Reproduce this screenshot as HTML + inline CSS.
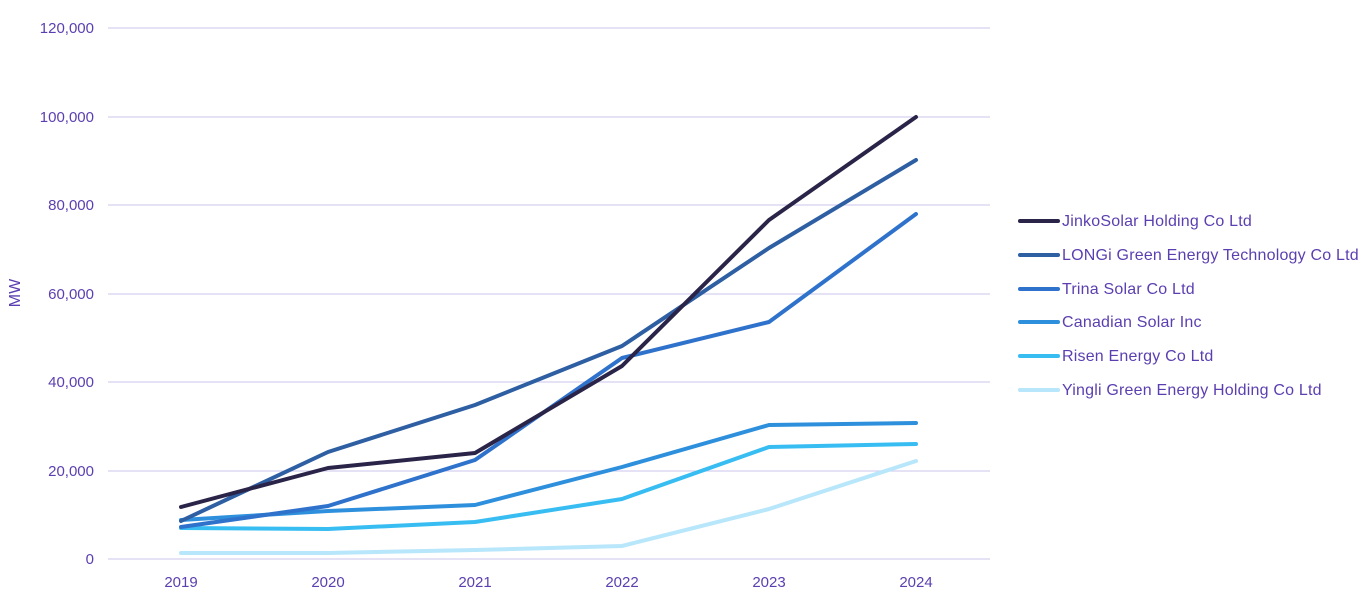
<!DOCTYPE html><html><head><style>body{margin:0;background:#fff}</style></head><body>
<svg width="1372" height="601" xmlns="http://www.w3.org/2000/svg" font-family="Liberation Sans, sans-serif">
<g stroke="#d4d0ee" stroke-width="1.2">
<line x1="108" x2="990" y1="28" y2="28"/><line x1="108" x2="990" y1="117" y2="117"/><line x1="108" x2="990" y1="205" y2="205"/><line x1="108" x2="990" y1="294" y2="294"/><line x1="108" x2="990" y1="382" y2="382"/><line x1="108" x2="990" y1="471" y2="471"/><line x1="108" x2="990" y1="559" y2="559"/>
</g>
<g fill="#5b3fb0" font-size="15" text-anchor="end">
<text x="94" y="33">120,000</text><text x="94" y="122">100,000</text><text x="94" y="210">80,000</text><text x="94" y="299">60,000</text><text x="94" y="387">40,000</text><text x="94" y="476">20,000</text><text x="94" y="564">0</text>
</g>
<g fill="#5b3fb0" font-size="15" text-anchor="middle">
<text x="181" y="587">2019</text><text x="328" y="587">2020</text><text x="475" y="587">2021</text><text x="622" y="587">2022</text><text x="769" y="587">2023</text><text x="916" y="587">2024</text>
</g>
<text transform="translate(20,293) rotate(-90)" fill="#5b3fb0" font-size="16" text-anchor="middle">MW</text>
<g fill="none" stroke-width="4" stroke-linejoin="round" stroke-linecap="round">
<polyline stroke="#b8e6fa" points="181,553 328,553 475,550 622,546 769,509 916,461"/>
<polyline stroke="#38bdf2" points="181,528 328,529 475,522 622,499 769,447 916,444"/>
<polyline stroke="#2e90dc" points="181,520 328,511 475,505 622,467 769,425 916,423"/>
<polyline stroke="#2f72cc" points="181,527 328,506 475,460 622,358 769,322 916,214"/>
<polyline stroke="#2e5fa3" points="181,521 328,452 475,405 622,346 769,248 916,160"/>
<polyline stroke="#2a2448" points="181,507 328,468 475,453 622,366 769,220 916,117"/>
</g>
<g stroke-width="4" stroke-linecap="round">
<line x1="1020" x2="1058" y1="221" y2="221" stroke="#2a2448"/>
<line x1="1020" x2="1058" y1="255" y2="255" stroke="#2e5fa3"/>
<line x1="1020" x2="1058" y1="289" y2="289" stroke="#2f72cc"/>
<line x1="1020" x2="1058" y1="322" y2="322" stroke="#2e90dc"/>
<line x1="1020" x2="1058" y1="356" y2="356" stroke="#38bdf2"/>
<line x1="1020" x2="1058" y1="390" y2="390" stroke="#b8e6fa"/>
</g>
<g fill="#5b3fb0" font-size="16" letter-spacing="0.2">
<text x="1062" y="226">JinkoSolar Holding Co Ltd</text>
<text x="1062" y="260">LONGi Green Energy Technology Co Ltd</text>
<text x="1062" y="294">Trina Solar Co Ltd</text>
<text x="1062" y="327">Canadian Solar Inc</text>
<text x="1062" y="361">Risen Energy Co Ltd</text>
<text x="1062" y="395">Yingli Green Energy Holding Co Ltd</text>
</g>
</svg>
</body></html>
